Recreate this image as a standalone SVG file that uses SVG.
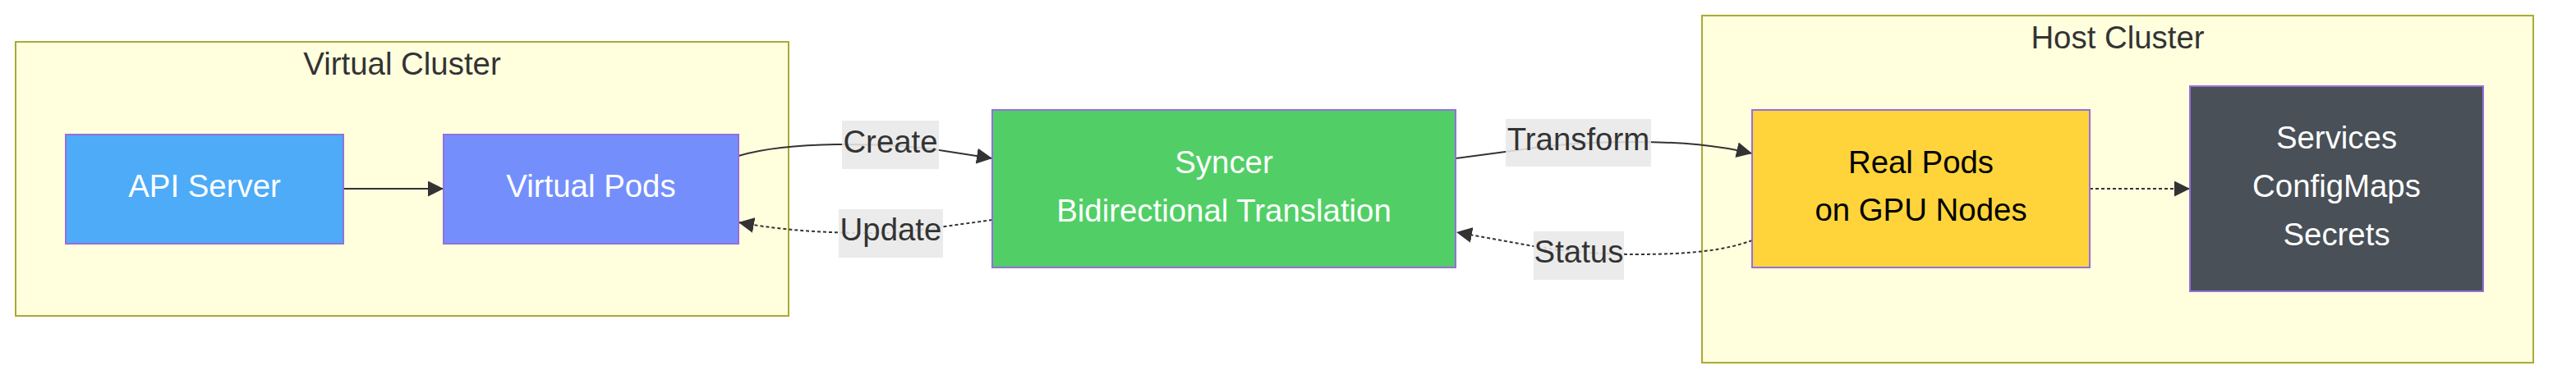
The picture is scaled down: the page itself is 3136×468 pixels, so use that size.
<svg xmlns="http://www.w3.org/2000/svg" width="3136" height="468" viewBox="0 0 3136 468">
<style>
  text { font-family: "Liberation Sans", Arial, sans-serif; font-size: 38.4px; text-anchor: middle; }
  .cluster { fill: #ffffde; stroke: #aaaa33; stroke-width: 2; }
  .ctitle { fill: #333333; }
  .node { stroke: #9370db; stroke-width: 2; }
  .ntext { fill: #ffffff; }
  .edge { fill: none; stroke: #333333; stroke-width: 2; }
  .dotted { stroke-dasharray: 4 3; }
  .lbg { fill: #e8e8e8; fill-opacity: 0.88; }
  .ltext { fill: #333333; }
</style>
<defs>
  <marker id="arrow" viewBox="0 0 10 10" refX="10" refY="5" markerUnits="userSpaceOnUse" markerWidth="19" markerHeight="19" orient="auto">
    <path d="M0,0 L10,5 L0,10 z" fill="#333333"/>
  </marker>
</defs>
<rect width="3136" height="468" fill="#ffffff"/>

<g id="cluster-virtual">
  <rect class="cluster" x="19" y="51" width="941" height="334"/>
  <text class="ctitle" x="489.5" y="91">Virtual Cluster</text>
</g>
<g id="cluster-host">
  <rect class="cluster" x="2072" y="19" width="1012" height="423"/>
  <text class="ctitle" x="2578" y="59">Host Cluster</text>
</g>

<g id="connectors">
  <path class="edge" d="M418,230 L540,230" marker-end="url(#arrow)"/>
  <path class="edge" d="M899,190 C930,181 970,176 1030,176 C1080,176 1120,179 1150,184 L1208,193" marker-end="url(#arrow)"/>
  <path class="edge dotted" d="M1208,268 L1150,276 C1120,280 1100,284 1070,284 C1010,284 960,282 899,271" marker-end="url(#arrow)"/>
  <path class="edge" d="M1772,193 L1840,184 C1880,178 1920,173 1990,173 C2050,173 2090,177 2133,187" marker-end="url(#arrow)"/>
  <path class="edge dotted" d="M2133,293 C2100,305 2060,310 1990,310 C1950,310 1900,306 1867,300 L1773,283" marker-end="url(#arrow)"/>
  <path class="edge dotted" d="M2544,230 L2666,230" marker-end="url(#arrow)"/>
  <g id="label-create">
    <rect class="lbg" x="1025" y="147" width="118" height="59"/>
    <text class="ltext" x="1084" y="186">Create</text>
  </g>
  <g id="label-update">
    <rect class="lbg" x="1021" y="255" width="127" height="59"/>
    <text class="ltext" x="1084.5" y="293">Update</text>
  </g>
  <g id="label-transform">
    <rect class="lbg" x="1833" y="145" width="177" height="58"/>
    <text class="ltext" x="1921.5" y="183">Transform</text>
  </g>
  <g id="label-status">
    <rect class="lbg" x="1867" y="282" width="110" height="59"/>
    <text class="ltext" x="1922" y="320">Status</text>
  </g>
</g>

<g id="node-api">
  <rect class="node" x="80" y="164" width="338" height="133" fill="#4dabf7"/>
  <text class="ntext" x="249" y="240">API Server</text>
</g>
<g id="node-vpods">
  <rect class="node" x="540" y="164" width="359" height="133" fill="#748ffc"/>
  <text class="ntext" x="719.5" y="240">Virtual Pods</text>
</g>
<g id="node-syncer">
  <rect class="node" x="1208" y="134" width="564" height="192" fill="#51cf66"/>
  <text class="ntext" x="1490" y="211">Syncer</text>
  <text class="ntext" x="1490" y="270">Bidirectional Translation</text>
</g>
<g id="node-realpods">
  <rect class="node" x="2133" y="134" width="411" height="192" fill="#ffd43b"/>
  <text x="2338.5" y="211" fill="#000000">Real Pods</text>
  <text x="2338.5" y="269" fill="#000000">on GPU Nodes</text>
</g>
<g id="node-services">
  <rect class="node" x="2666" y="105" width="357" height="250" fill="#495057"/>
  <text class="ntext" x="2844.5" y="181">Services</text>
  <text class="ntext" x="2844.5" y="240">ConfigMaps</text>
  <text class="ntext" x="2844.5" y="299">Secrets</text>
</g>
</svg>
